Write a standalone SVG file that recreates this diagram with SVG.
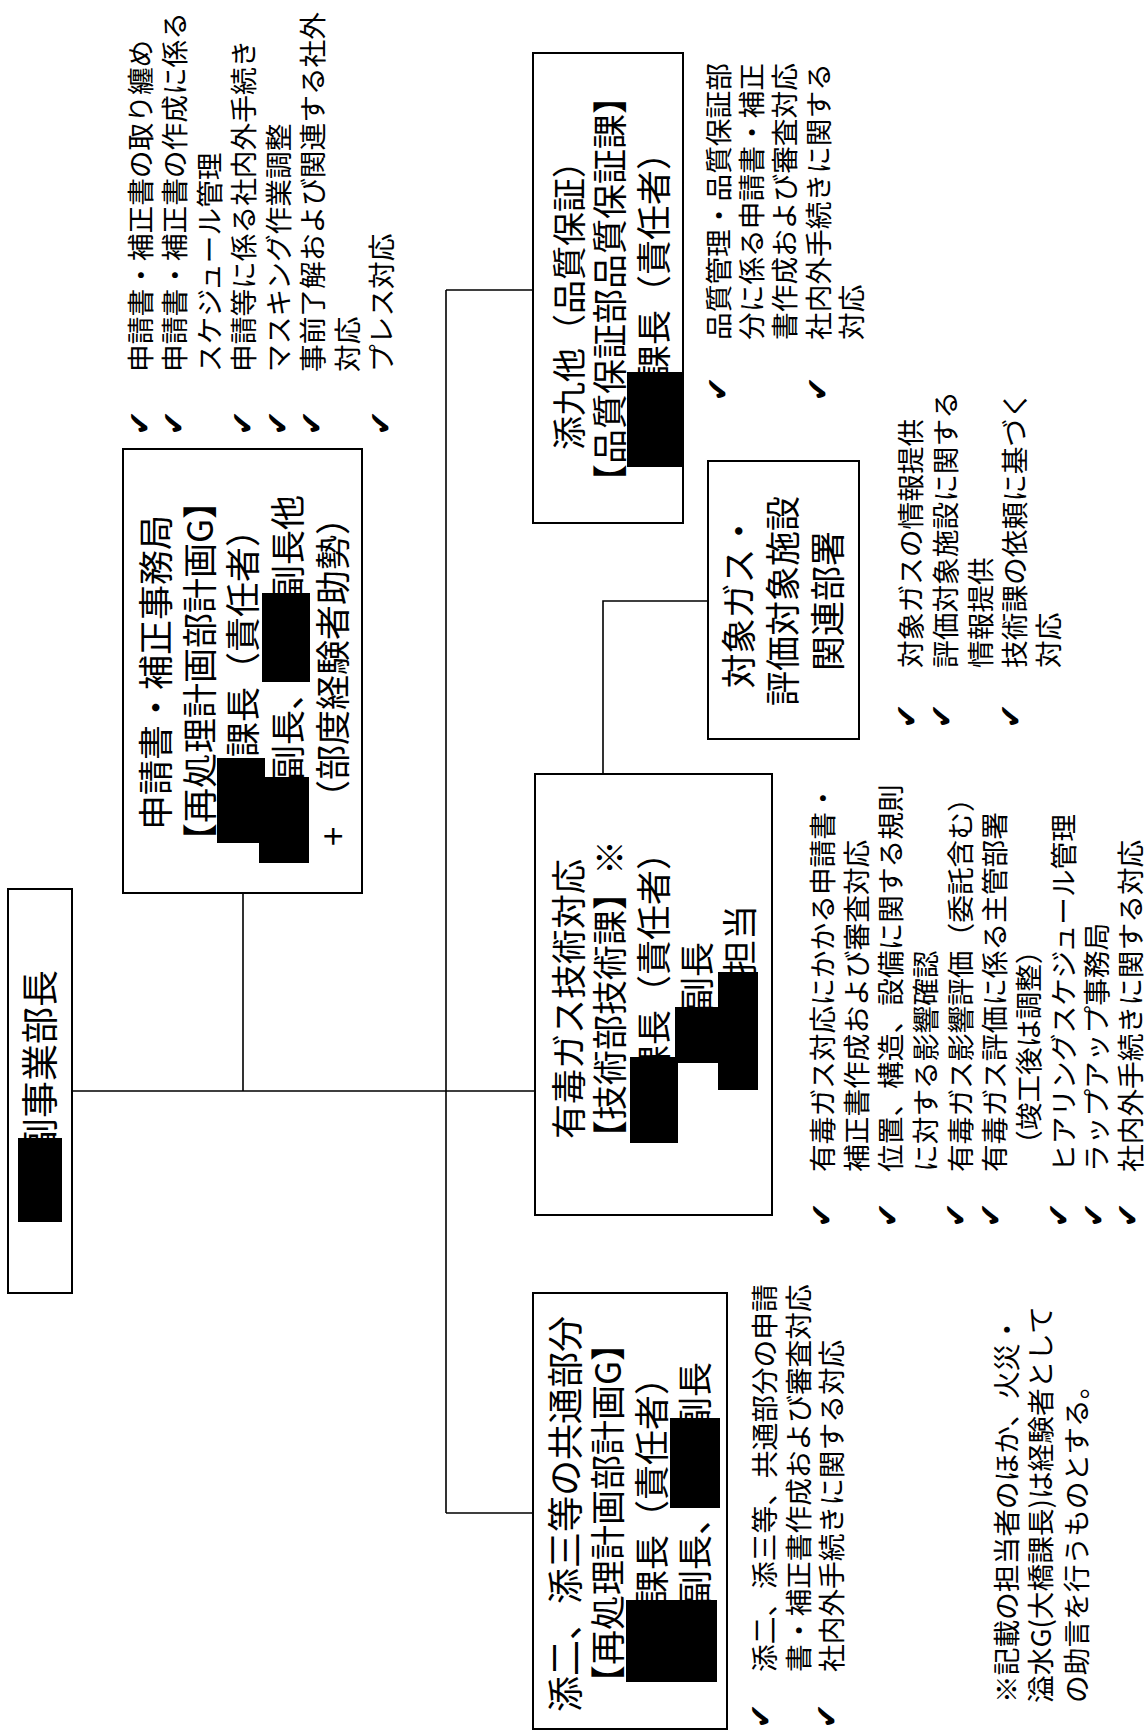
<svg xmlns="http://www.w3.org/2000/svg" width="1145" height="1732" viewBox="0 0 1145 1732">
<style>
.t{font-family:"Noto Sans CJK JP","Noto Sans CJK SC",sans-serif;dominant-baseline:central;fill:#000}
.f35{font-size:35px}
.f36{font-size:36px}
.f37{font-size:37px}
.f34{font-size:34px}
.fb{font-size:27.7px}
.ck{font-family:"DejaVu Sans",sans-serif;font-size:30px;text-anchor:middle;dominant-baseline:central}
.mid{text-anchor:middle}
.box{fill:#fff;stroke:#000;stroke-width:2}
.ln{stroke:#000;stroke-width:1.6;fill:none}
.red{fill:#000}
</style>
<rect width="1145" height="1732" fill="#fff"/>
<g id="connectors">
<path class="ln" d="M243,893V1091M72,1091H535M446,290V1513M446,290H533M446,1513H533M603,774V601H708"/>
</g>
<g id="n-fukujigyobucho">
<rect class="box" x="8" y="889" width="64" height="404"/>
<text class="t f37" transform="translate(38,1155) rotate(-90)">副事業部長</text>
<rect class="red" x="18" y="1138" width="44" height="84"/>
</g>
<g id="n-shinsei">
<rect class="box" x="123" y="449" width="239" height="444"/>
<text class="t f35" transform="translate(153,830) rotate(-90)">申請書・補正事務局</text>
<text class="t f35" transform="translate(197,858) rotate(-90)">【再処理計画部計画G】</text>
<text class="t f35" transform="translate(240,757) rotate(-90)">課長（責任者）</text>
<text class="t f35" transform="translate(285,780) rotate(-90)">副長、</text>
<text class="t f35" transform="translate(285,600) rotate(-90)">副長他</text>
<text class="t f35" transform="translate(330,846) rotate(-90)"><tspan>+</tspan><tspan x="31">（部度経験者助勢）</tspan></text>
<rect class="red" x="217" y="758" width="48" height="85"/>
<rect class="red" x="259" y="777" width="50" height="86"/>
<rect class="red" x="262" y="593" width="48" height="89"/>
</g>
<g id="b-shinsei">
<text class="ck" transform="translate(139,423) rotate(-90)">✔</text>
<text class="t fb" transform="translate(139,372) rotate(-90)">申請書・補正書の取り纏め</text>
<text class="ck" transform="translate(173,423) rotate(-90)">✔</text>
<text class="t fb" transform="translate(173,372) rotate(-90)">申請書・補正書の作成に係る</text>
<text class="t fb" transform="translate(208,372) rotate(-90)">スケジュール管理</text>
<text class="ck" transform="translate(242,423) rotate(-90)">✔</text>
<text class="t fb" transform="translate(242,372) rotate(-90)">申請等に係る社内外手続き</text>
<text class="ck" transform="translate(277,423) rotate(-90)">✔</text>
<text class="t fb" transform="translate(277,372) rotate(-90)">マスキング作業調整</text>
<text class="ck" transform="translate(311,423) rotate(-90)">✔</text>
<text class="t fb" transform="translate(311,372) rotate(-90)">事前了解および関連する社外</text>
<text class="t fb" transform="translate(346,372) rotate(-90)">対応</text>
<text class="ck" transform="translate(380,423) rotate(-90)">✔</text>
<text class="t fb" transform="translate(380,372) rotate(-90)">プレス対応</text>
</g>
<g id="n-tenkyu">
<rect class="box" x="533" y="53" width="150" height="470"/>
<text class="t f34" transform="translate(567,450) rotate(-90)">添九他（品質保証）</text>
<text class="t f35" transform="translate(607,499) rotate(-90)">【品質保証部品質保証課】</text>
<text class="t f35" transform="translate(651,380) rotate(-90)">課長（責任者）</text>
<rect class="red" x="627" y="372" width="55" height="95"/>
</g>
<g id="b-tenkyu">
<text class="ck" transform="translate(717,389) rotate(-90)">✔</text>
<text class="t fb" transform="translate(717,340) rotate(-90)">品質管理・品質保証部</text>
<text class="t fb" transform="translate(750,340) rotate(-90)">分に係る申請書・補正</text>
<text class="t fb" transform="translate(783,340) rotate(-90)">書作成および審査対応</text>
<text class="ck" transform="translate(817,389) rotate(-90)">✔</text>
<text class="t fb" transform="translate(817,340) rotate(-90)">社内外手続きに関する</text>
<text class="t fb" transform="translate(850,340) rotate(-90)">対応</text>
</g>
<g id="n-taishogas">
<rect class="box" x="708" y="461" width="151" height="278"/>
<text class="t f35 mid" transform="translate(736,601) rotate(-90)">対象ガス・</text>
<text class="t f35 mid" transform="translate(780,601) rotate(-90)">評価対象施設</text>
<text class="t f35 mid" transform="translate(825,601) rotate(-90)">関連部署</text>
</g>
<g id="b-taishogas">
<text class="ck" transform="translate(906,716) rotate(-90)">✔</text>
<text class="t fb" transform="translate(909,668) rotate(-90)">対象ガスの情報提供</text>
<text class="ck" transform="translate(941,716) rotate(-90)">✔</text>
<text class="t fb" transform="translate(944,668) rotate(-90)">評価対象施設に関する</text>
<text class="t fb" transform="translate(979,668) rotate(-90)">情報提供</text>
<text class="ck" transform="translate(1010,716) rotate(-90)">✔</text>
<text class="t fb" transform="translate(1013,668) rotate(-90)">技術課の依頼に基づく</text>
<text class="t fb" transform="translate(1047,668) rotate(-90)">対応</text>
</g>
<g id="n-yudokugas">
<rect class="box" x="535" y="774" width="237" height="441"/>
<text class="t f35" transform="translate(566,1139) rotate(-90)">有毒ガス技術対応</text>
<text class="t f35" transform="translate(607,1155) rotate(-90)">【技術部技術課】※</text>
<text class="t f35" transform="translate(651,1080) rotate(-90)">課長（責任者）</text>
<text class="t f35" transform="translate(694,1012) rotate(-90)">副長</text>
<text class="t f35" transform="translate(737,975) rotate(-90)">担当</text>
<rect class="red" x="630" y="1057" width="48" height="86"/>
<rect class="red" x="675" y="1007" width="43" height="56"/>
<rect class="red" x="718" y="972" width="40" height="118"/>
</g>
<g id="b-yudokugas">
<text class="ck" transform="translate(821,1215) rotate(-90)">✔</text>
<text class="t fb" transform="translate(821,1172) rotate(-90)">有毒ガス対応にかかる申請書・</text>
<text class="t fb" transform="translate(855,1172) rotate(-90)">補正書作成および審査対応</text>
<text class="ck" transform="translate(887,1215) rotate(-90)">✔</text>
<text class="t fb" transform="translate(889,1172) rotate(-90)">位置、構造、設備に関する規則</text>
<text class="t fb" transform="translate(924,1172) rotate(-90)">に対する影響確認</text>
<text class="ck" transform="translate(955,1215) rotate(-90)">✔</text>
<text class="t fb" transform="translate(959,1172) rotate(-90)">有毒ガス影響評価（委託含む）</text>
<text class="ck" transform="translate(990,1215) rotate(-90)">✔</text>
<text class="t fb" transform="translate(993,1172) rotate(-90)">有毒ガス評価に係る主管部署</text>
<text class="t fb" transform="translate(1027,1158) rotate(-90)">（竣工後は調整）</text>
<text class="ck" transform="translate(1058,1215) rotate(-90)">✔</text>
<text class="t fb" transform="translate(1062,1172) rotate(-90)">ヒアリングスケジュール管理</text>
<text class="ck" transform="translate(1093,1215) rotate(-90)">✔</text>
<text class="t fb" transform="translate(1095,1172) rotate(-90)">ラップアップ事務局</text>
<text class="ck" transform="translate(1127,1215) rotate(-90)">✔</text>
<text class="t fb" transform="translate(1129,1172) rotate(-90)">社内外手続きに関する対応</text>
</g>
<g id="n-tenni">
<rect class="box" x="533" y="1293" width="194" height="436"/>
<text class="t f36" transform="translate(563,1712) rotate(-90)">添二、添三等の共通部分</text>
<text class="t f35" transform="translate(605,1700) rotate(-90)">【再処理計画部計画G】</text>
<text class="t f35" transform="translate(649,1605) rotate(-90)">課長（責任者）</text>
<text class="t f35" transform="translate(692,1605) rotate(-90)">副長、</text>
<text class="t f35" transform="translate(692,1432) rotate(-90)">副長</text>
<rect class="red" x="626" y="1600" width="91" height="82"/>
<rect class="red" x="670" y="1418" width="50" height="90"/>
</g>
<g id="b-tenni">
<text class="ck" transform="translate(760,1716) rotate(-90)">✔</text>
<text class="t fb" transform="translate(763,1672) rotate(-90)">添二、添三等、共通部分の申請</text>
<text class="t fb" transform="translate(797,1672) rotate(-90)">書・補正書作成および審査対応</text>
<text class="ck" transform="translate(826,1716) rotate(-90)">✔</text>
<text class="t fb" transform="translate(830,1672) rotate(-90)">社内外手続きに関する対応</text>
</g>
<g id="note">
<text class="t fb" transform="translate(1005,1703) rotate(-90)">※記載の担当者のほか、火災・</text>
<text class="t fb" transform="translate(1039,1703) rotate(-90)">溢水G(大橋課長)は経験者として</text>
<text class="t fb" transform="translate(1075,1703) rotate(-90)">の助言を行うものとする。</text>
</g>
</svg>
